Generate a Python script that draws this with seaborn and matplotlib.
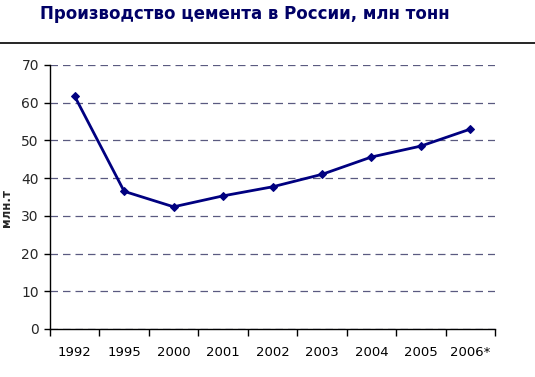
import matplotlib
matplotlib.use("Agg")
import matplotlib.pyplot as plt
import seaborn as sns
import pandas as pd
from matplotlib.lines import Line2D
from matplotlib.ticker import FixedLocator

# data
years = ["1992", "1995", "2000", "2001", "2002", "2003", "2004", "2005", "2006*"]
cement = [61.7, 36.5, 32.4, 35.3, 37.7, 41.0, 45.6, 48.5, 53.0]

df = pd.DataFrame({"year": years, "cement": cement})

sns.set_style("white")
plt.rcParams["font.family"] = ["DejaVu Sans"]

fig = plt.figure(figsize=(5.35, 3.77), dpi=100)
ax = fig.add_axes([50 / 535, 1 - 329 / 377, 445 / 535, 264 / 377])

navy = "#000080"
sns.lineplot(data=df, x="year", y="cement", sort=False, color=navy,
             marker="D", markersize=4, markeredgecolor=navy, linewidth=2, ax=ax)

ax.set_xlim(-0.5, len(years) - 0.5)
ax.set_ylim(0, 70)
ax.set_yticks(range(0, 71, 10))
ax.yaxis.grid(True, linestyle=(0, (6, 4)), color="#5a5a80", linewidth=0.9)
ax.set_axisbelow(True)

# x ticks sit at the category borders, labels at the centres
ax.xaxis.set_minor_locator(FixedLocator([i - 0.5 for i in range(len(years) + 1)]))
ax.tick_params(axis="x", which="major", length=0, pad=12, labelsize=9.5, colors="black")
ax.tick_params(axis="x", which="minor", length=5, width=1, color="black", bottom=True)
ax.tick_params(axis="y", length=4, width=1, color="black", left=True, labelsize=10, pad=4)

for s in ["top", "right"]:
    ax.spines[s].set_visible(False)
for s in ["left", "bottom"]:
    ax.spines[s].set_color("black")
    ax.spines[s].set_linewidth(1)

ax.set_xlabel("")
ax.set_ylabel("млн.т", fontsize=8.5, fontweight="bold")
ax.yaxis.set_label_coords(-0.083, 0.46)

fig.text(0.458, 1 - 14 / 377, "Производство цемента в России, млн тонн",
         ha="center", va="center", fontsize=12, fontweight="bold", color="#000066")
fig.add_artist(Line2D([0, 1], [1 - 43 / 377, 1 - 43 / 377], color="black", linewidth=1.2))

fig.savefig("out.png", dpi=100)
